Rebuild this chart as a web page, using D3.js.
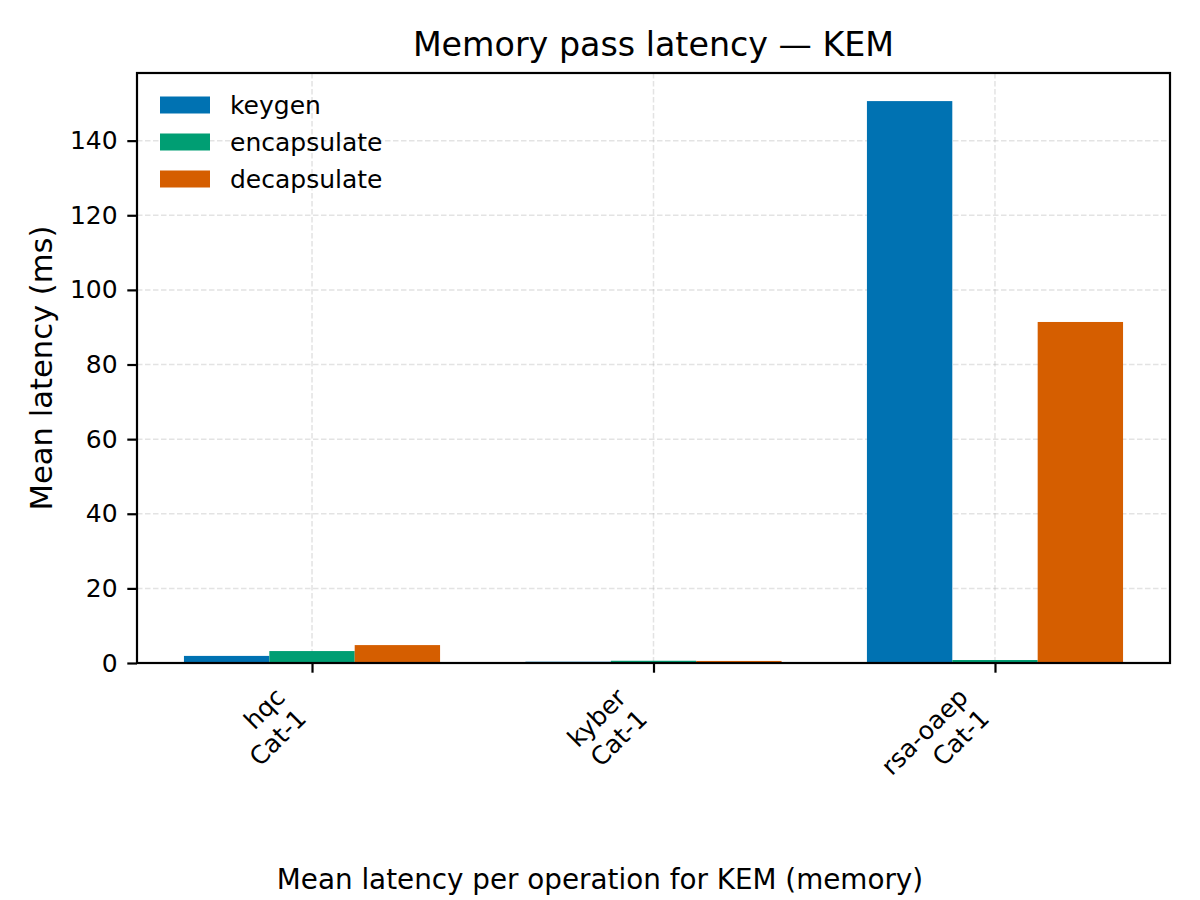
<!DOCTYPE html>
<html>
<head>
<meta charset="utf-8">
<script src="https://cdn.jsdelivr.net/npm/d3@7"></script>
<style>
  html, body { margin: 0; padding: 0; background: #fff; }
  svg { display: block; font-family: "DejaVu Sans", sans-serif; }
</style>
</head>
<body>
<svg id="chart" width="1200" height="900"></svg>
<script>
// ---- data ----
const categories = ["hqc\nCat-1", "kyber\nCat-1", "rsa-oaep\nCat-1"];
const seriesNames = ["keygen", "encapsulate", "decapsulate"];
const keygen = [1.9, 0.35, 150.6];
const encapsulate = [3.2, 0.6, 0.8];
const decapsulate = [4.8, 0.55, 91.4];
const yTicks = [0, 20, 40, 60, 80, 100, 120, 140];
const colors = ["#0072B2", "#009E73", "#D55E00"];
const title = "Memory pass latency \u2014 KEM";
const yLabel = "Mean latency (ms)";
const caption = "Mean latency per operation for KEM (memory)";

const seriesValues = [keygen, encapsulate, decapsulate];

// ---- layout ----
const L = 137, R = 1170, T = 73, B = 663;
const svg = d3.select("#chart");
const barW = 0.25;
const nCat = categories.length;
const xMin = -1.5 * barW, xMax = (nCat - 1) + 1.5 * barW;
const xPad = (xMax - xMin) * 0.05;
const x = d3.scaleLinear().domain([xMin - xPad, xMax + xPad]).range([L, R]);
const yMax = d3.max(seriesValues.flat());
const y = d3.scaleLinear().domain([0, yMax * 1.05]).range([B, T]);

// grid
const grid = svg.append("g");
grid.selectAll("line.gy").data(yTicks).join("line")
  .attr("x1", L).attr("x2", R)
  .attr("y1", d => y(d)).attr("y2", d => y(d))
  .attr("stroke", "#b0b0b0").attr("stroke-opacity", 0.35)
  .attr("stroke-width", 1.5).attr("stroke-dasharray", "5.5,2.5");
grid.selectAll("line.gx").data(d3.range(nCat)).join("line")
  .attr("y1", T).attr("y2", B)
  .attr("x1", d => x(d)).attr("x2", d => x(d))
  .attr("stroke", "#b0b0b0").attr("stroke-opacity", 0.35)
  .attr("stroke-width", 1.5).attr("stroke-dasharray", "5.5,2.5");

// bars
seriesValues.forEach((vals, si) => {
  const off = (si - 1) * barW;
  svg.append("g").selectAll("rect").data(vals).join("rect")
    .attr("x", (d, i) => x(i + off - barW / 2))
    .attr("width", (d, i) => x(i + off + barW / 2) - x(i + off - barW / 2))
    .attr("y", d => y(d))
    .attr("height", d => y(0) - y(d))
    .attr("fill", colors[si]);
});

// y axis
const yAxis = d3.axisLeft(y).tickValues(yTicks).tickSize(9.7).tickPadding(9.7)
  .tickFormat(d3.format("d"));
const gy = svg.append("g").attr("transform", `translate(${L},0)`).call(yAxis);
gy.select(".domain").remove();
gy.selectAll(".tick line").attr("stroke", "#000").attr("stroke-width", 2.2);
gy.selectAll(".tick text").attr("font-size", 25).attr("fill", "#000")
  .attr("font-family", "DejaVu Sans");

// x axis ticks
const xAxis = d3.axisBottom(x).tickValues(d3.range(nCat)).tickSize(9.7).tickFormat("");
const gx = svg.append("g").attr("transform", `translate(0,${B})`).call(xAxis);
gx.select(".domain").remove();
gx.selectAll(".tick line").attr("stroke", "#000").attr("stroke-width", 2.2);

// rotated x labels
const labTop = B + 9.7 + 9.7;
categories.forEach((c, i) => {
  const g = svg.append("g");
  const t = g.append("text").attr("text-anchor", "end")
    .attr("font-size", 25).attr("fill", "#000")
    .attr("transform", "rotate(-45)");
  c.split("\n").forEach((ln, k) => {
    t.append("tspan").attr("x", 0).attr("dy", k === 0 ? 0 : "1.2em").text(ln);
  });
  const bb = g.node().getBoundingClientRect();
  const sb = svg.node().getBoundingClientRect();
  const right = bb.right - sb.left, top = bb.top - sb.top;
  g.attr("transform", `translate(${x(i) - right},${labTop - top})`);
});

// frame
svg.append("rect").attr("x", L).attr("y", T).attr("width", R - L).attr("height", B - T)
  .attr("fill", "none").attr("stroke", "#000").attr("stroke-width", 2.2);

// title
svg.append("text").attr("x", (L + R) / 2).attr("y", T - 16.7)
  .attr("text-anchor", "middle").attr("font-size", 33.3).attr("fill", "#000").text(title);

// y label
svg.append("text").attr("transform", `translate(52,${(T + B) / 2}) rotate(-90)`)
  .attr("text-anchor", "middle").attr("font-size", 30.6).attr("fill", "#000").text(yLabel);

// caption
svg.append("text").attr("x", 600).attr("y", 889)
  .attr("text-anchor", "middle").attr("font-size", 27.8).attr("fill", "#000").text(caption);

// legend
const lg = svg.append("g");
seriesNames.forEach((n, i) => {
  const cy = 105 + i * 37;
  lg.append("rect").attr("x", 160).attr("y", cy - 8.5).attr("width", 50).attr("height", 17)
    .attr("fill", colors[i]);
  lg.append("text").attr("x", 230).attr("y", cy).attr("dy", "0.35em")
    .attr("font-size", 25).attr("fill", "#000").text(n);
});
</script>
</body>
</html>
